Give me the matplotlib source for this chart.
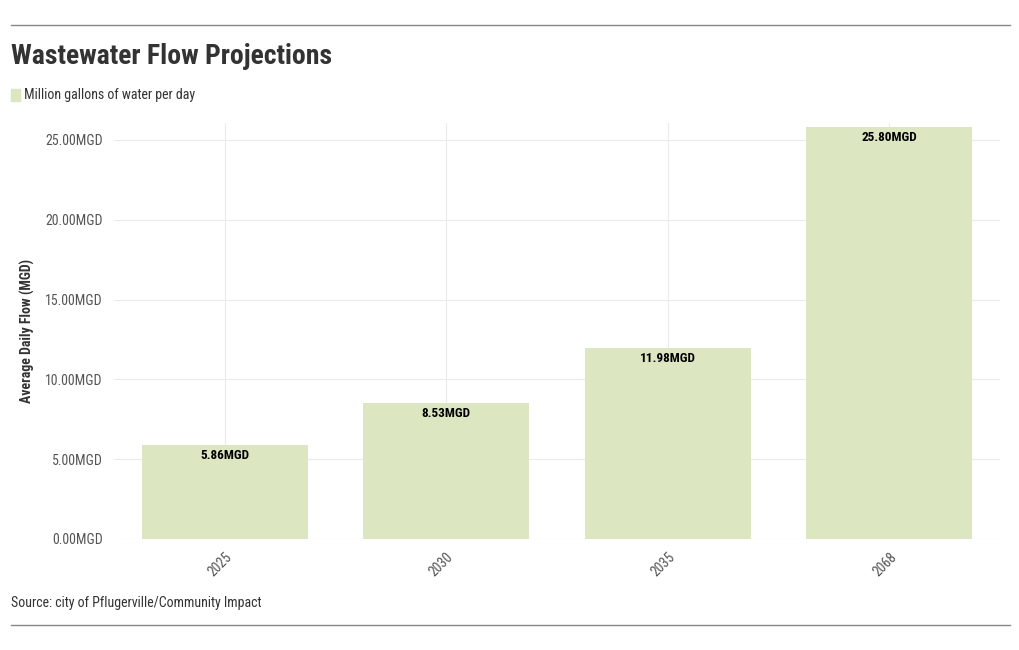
import matplotlib
matplotlib.use("Agg")
import matplotlib.pyplot as plt
from matplotlib import font_manager
from matplotlib.patches import Rectangle
from matplotlib.lines import Line2D

years = ["2025", "2030", "2035", "2068"]
flow_mgd = [5.86, 8.53, 11.98, 25.80]
y_ticks = [0, 5, 10, 15, 20, 25]

# Prefer a condensed face if one is installed
names = {f.name for f in font_manager.fontManager.ttflist}
family = None
for cand in ["Roboto Condensed", "Liberation Sans Narrow", "DejaVu Sans Condensed", "Roboto"]:
    if cand in names:
        family = cand
        break
plt.rcParams["font.family"] = [family or "DejaVu Sans", "DejaVu Sans"]

BAR = "#dce6c1"
TXT = "#333333"

fig = plt.figure(figsize=(10.2, 6.5), dpi=100)
W, H = 1020, 650
ax = fig.add_axes([114 / W, 1 - 539 / H, 886 / W, (539 - 123) / H])

x = list(range(len(years)))
ax.bar(x, flow_mgd, width=0.75, color=BAR, zorder=2)
for xi, v in zip(x, flow_mgd):
    ax.annotate(f"{v:.2f}MGD", (xi, v), xytext=(0, -7.5), textcoords="offset points",
                ha="center", va="center", fontsize=9.5, fontweight="bold", color="black", zorder=3)

ax.set_xlim(-0.5, 3.5)
ax.set_ylim(0, 26.06)
ax.set_yticks(y_ticks)
ax.set_yticklabels([f"{t:.2f}MGD" for t in y_ticks], fontsize=10, color="#555555")
ax.set_xticks(x)
ax.set_xticklabels(years, rotation=45, ha="right", rotation_mode="anchor", fontsize=10, color="#555555")
ax.tick_params(length=0)
ax.tick_params(axis="y", pad=8)
ax.tick_params(axis="x", pad=8)
ax.grid(True, color="#ebebeb", linewidth=0.8, zorder=0)
for s in ax.spines.values():
    s.set_visible(False)
ax.set_ylabel("Average Daily Flow (MGD)", fontsize=10, fontweight="bold", color=TXT, va="center")
ax.yaxis.set_label_coords((27 - 114) / 886, 0.5)

fig.add_artist(Line2D([11 / W, 1010 / W], [1 - 25 / H] * 2, color="#888888", lw=1))
fig.add_artist(Line2D([11 / W, 1010 / W], [1 - 625 / H] * 2, color="#888888", lw=1))

fig.text(11 / W, 1 - 57 / H, "Wastewater Flow Projections", fontsize=20, fontweight="bold",
         color=TXT, va="center", ha="left")
fig.add_artist(Rectangle((11 / W, 1 - 101 / H), 9 / W, 12 / H, color=BAR, transform=fig.transFigure))
fig.text(24 / W, 1 - 95 / H, "Million gallons of water per day", fontsize=10, color=TXT,
         va="center", ha="left")
fig.text(11 / W, 1 - 603 / H, "Source: city of Pflugerville/Community Impact", fontsize=10,
         color=TXT, va="center", ha="left")

fig.savefig("out.png", dpi=100)
